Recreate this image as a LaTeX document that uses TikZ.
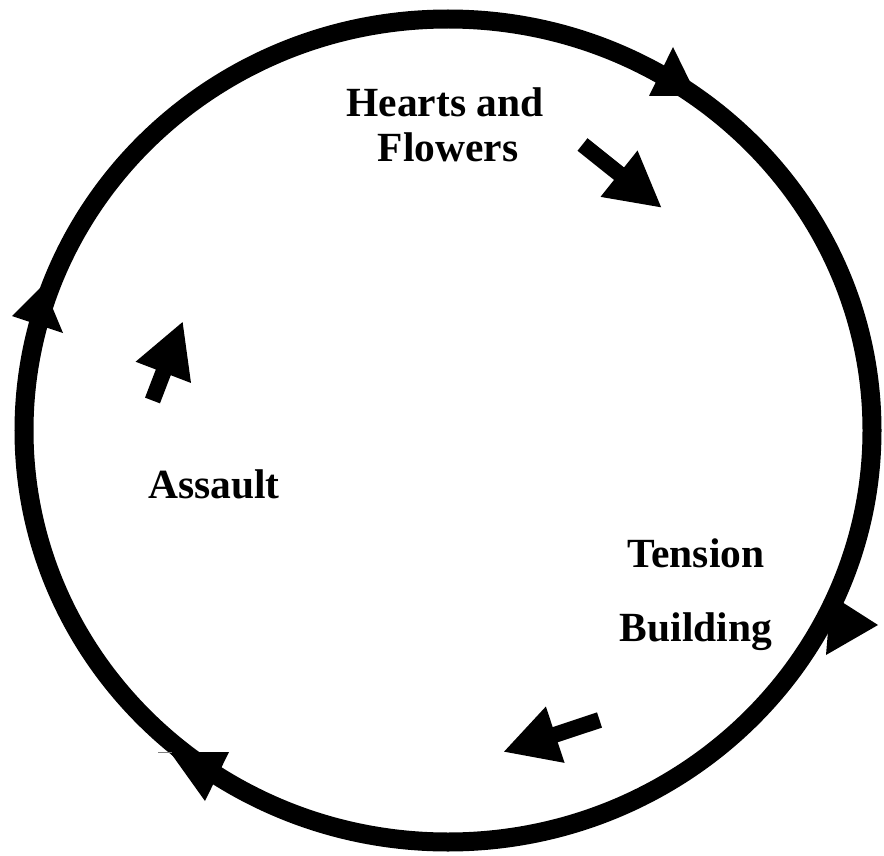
\documentclass[tikz,border=0pt]{standalone}
\usepackage{fontspec}
\setmainfont{Liberation Serif}
\usetikzlibrary{arrows.meta}

\begin{document}
\begin{tikzpicture}[
x=1pt,
y=-1pt,
ring/.style={
  draw,
  line width=19pt
  },
head/.style={
  fill=black
  },
push/.style={
  line width=16pt,
  -{Triangle[length=55pt,width=55pt]}
  },
word/.style={
  font=\fontsize{41.5}{45}\selectfont\bfseries,
  inner sep=0pt,
  anchor=base
  }
]
\useasboundingbox (0,0) rectangle (884,856);

\draw[ring] (448,430.5) ellipse [x radius=424pt, y radius=411.5pt];

% heads on the ring
\fill[head] (673,47) -- (649,96) -- (697,96) -- cycle;
\fill[head] (831,595) -- (878,625) -- (826,655) -- cycle;
\fill[head] (170,752) -- (229,752) -- (205,801) -- cycle;
\fill[head] (43,285) -- (12,316) -- (63,333) -- cycle;
\draw[gray, line width=0.8pt] (158,752) -- (172,752);

% labels
\node[word] (hearts) at (445,117) {Hearts and};
\node[word] (flowers) at (448,162) {Flowers};
\node[word] (assault) at (214,498) {Assault};
\node[word] (tension) at (696,567) {Tension};
\node[word] (building) at (696,641) {Building};

% block arrows
\coordinate (hf-tail) at (582.5,144.5);
\coordinate (hf-tip) at (662,208);
\coordinate (tb-tail) at (599.5,720);
\coordinate (tb-tip) at (503,752);
\coordinate (as-tail) at (152.5,400.5);
\coordinate (as-tip) at (183,321);

\draw[push] (hf-tail) -- (hf-tip);
\draw[push] (tb-tail) -- (tb-tip);
\draw[push] (as-tail) -- (as-tip);

\end{tikzpicture}
\end{document}
